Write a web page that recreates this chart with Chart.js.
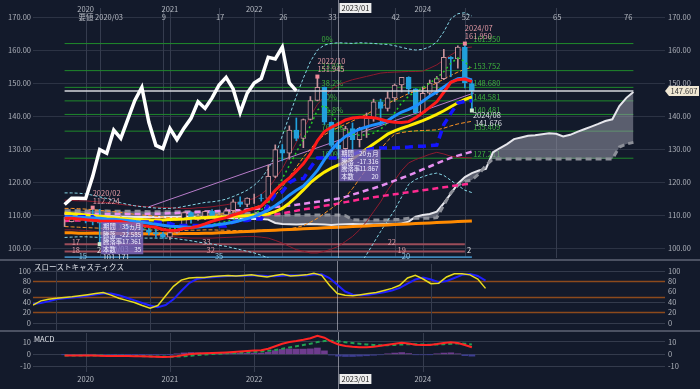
<!DOCTYPE html>
<html><head><meta charset="utf-8">
<script src="https://cdn.jsdelivr.net/npm/chart.js@4.4.1/dist/chart.umd.min.js"></script>
<style>
html,body{margin:0;padding:0;background:#131a2b;overflow:hidden}
#wrap{position:relative;width:700px;height:389px;background:#131a2b}
canvas{position:absolute;left:0;display:block}
.sep{position:absolute;left:0;width:700px;height:2px;background:#4b5162}
</style></head><body>
<div id="wrap">
<canvas id="cMain" width="700" height="260" style="top:0px"></canvas>
<canvas id="cSto" width="700" height="72" style="top:260px"></canvas>
<canvas id="cMacd" width="700" height="57" style="top:332px"></canvas>
<div class="sep" style="top:259px"></div>
<div class="sep" style="top:330px"></div>
</div>
<script>
// ---- month index: 0 = 2020/01, first candle -3 = 2019/10, last candle 55 = 2024/08, cloud to 78 ----
const START = -3;
const END_M = 78;

const opens = [108.0,108.0,109.5,108.6,108.4,107.9,107.5,106.9,107.8,107.9,
 105.9,105.9,105.5,104.7,104.3,103.25,104.7,106.6,110.7,109.3,
 109.6,111.1,109.7,110.0,111.3,114.0,113.2,115.1,115.1,115.0,
 121.7,129.8,128.7,135.7,133.2,138.95,144.7,148.7,138.1,131.1,
 130.1,136.2,132.8,136.3,139.3,144.3,142.3,145.5,149.4,151.7,
 148.2,141.0,146.9,150.0,151.35,157.8,157.3,160.9,149.8];
const highs = [109.3,109.7,109.7,110.3,112.22,111.7,109.4,108.1,109.85,108.2,
 107.05,106.55,106.1,105.7,104.75,104.9,106.7,110.97,110.96,110.2,
 111.1,111.66,110.8,112.07,114.7,115.5,115.2,116.35,116.3,125.1,
 131.25,131.35,137.0,139.4,139.1,145.9,151.95,148.8,138.2,131.6,
 136.9,137.9,136.6,140.9,145.1,145.1,147.4,149.7,151.7,151.9,
 148.3,148.8,150.9,151.97,160.2,157.99,161.3,161.95,150.9];
const lows = [106.5,107.9,108.4,107.6,107.0,101.17,106.4,106.0,106.1,104.2,
 105.1,104.0,104.0,103.2,102.9,102.6,104.4,106.4,107.5,108.35,
 108.6,109.05,108.7,109.1,110.8,112.5,112.5,113.5,114.2,114.6,
 121.3,126.4,126.9,132.5,130.4,138.8,144.6,137.5,130.6,127.21,
 128.1,129.6,130.6,133.5,138.4,137.2,141.5,144.4,147.3,146.7,
 140.95,140.8,145.9,146.5,151.0,151.9,154.5,148.5,141.68];
const closes = [108.0,109.5,108.6,108.4,107.9,107.5,106.9,107.8,107.9,105.9,
 105.9,105.5,104.7,104.3,103.25,104.7,106.6,110.7,109.3,109.6,
 111.1,109.7,110.0,111.3,114.0,113.2,115.1,115.1,115.0,121.7,
 129.8,128.7,135.7,133.2,138.95,144.7,148.7,138.1,131.1,130.1,
 136.2,132.8,136.3,139.3,144.3,142.3,145.5,149.4,151.7,148.2,
 141.0,146.9,150.0,151.35,157.8,157.3,160.9,150.0,147.6];

// lagging span (m -3 .. 30)
const lagSpan = [113.2,115.1,115.1,115.0,121.7,129.8,128.7,135.7,133.2,138.95,
 144.7,148.7,138.1,131.1,130.1,136.2,132.8,136.3,139.3,144.3,
 142.3,145.5,149.4,151.7,148.2,141.0,146.9,150.0,151.35,157.8,
 157.3,160.9,150.0,147.6];

// leading spans (m -3 .. 78)
const senkouA = [110.3,110.2,110.1,110.0,109.9,109.8,109.7,109.6,109.5,109.5,
 109.4,109.4,109.4,109.4,109.4,109.4,109.4,109.5,109.5,109.5,
 109.4,109.3,109.2,109.1,109.0,108.9,108.9,108.8,108.8,108.6,
 107.6,107.3,107.2,107.1,107.2,107.3,107.2,107.1,107.0,107.1,
 107.2,107.3,107.2,107.2,107.1,107.2,107.3,107.2,107.4,108.0,
 109.5,110.0,110.3,111.0,113.6,116.5,119.5,121.5,122.7,123.5,
 124.0,129.0,130.3,131.5,133.0,133.5,134.0,134.2,134.5,134.8,
 134.6,133.8,134.3,135.2,136.0,136.8,137.6,138.5,139.0,143.0,
 145.5,147.3];
const senkouB = [111.3,111.3,111.3,111.2,111.2,111.2,111.2,111.1,111.1,111.1,
 111.1,111.1,111.0,111.0,111.0,111.0,111.0,111.0,111.0,111.0,
 111.0,110.9,110.8,110.8,110.7,110.6,110.5,110.5,110.4,110.2,
 110.0,110.0,110.0,110.0,110.0,110.0,110.0,110.0,110.0,110.0,
 109.8,108.6,108.5,108.5,108.5,108.5,108.5,108.6,108.7,109.0,
 109.0,109.0,109.0,109.2,113.0,116.7,119.0,120.2,120.6,122.5,
 125.0,127.0,127.0,127.0,127.0,127.0,127.0,127.0,127.0,127.0,
 127.0,127.0,127.0,127.0,127.0,127.0,127.0,127.0,127.0,130.6,
 131.5,132.0];

// moving averages / bands (m -3 .. 55)
const maRed = [109.0,109.0,108.8,108.6,108.4,108.2,108.1,108.1,108.0,107.6,
 107.2,106.8,106.5,106.3,105.6,105.3,105.4,105.9,106.1,106.6,
 107.3,108.1,108.7,109.2,110.0,110.6,111.4,112.0,112.7,114.8,
 117.5,119.5,121.2,123.3,125.5,128.5,132.5,135.3,136.6,137.6,
 138.8,139.4,139.6,139.6,139.5,139.0,138.4,138.1,138.0,138.3,
 139.5,141.0,142.6,144.3,147.2,150.2,151.0,151.2,150.4];
const maBlue = [109.5,109.4,109.3,109.2,109.1,109.0,108.8,108.7,108.5,108.3,
 108.0,107.8,107.5,107.2,106.9,106.6,106.5,106.4,106.3,106.4,
 106.6,106.8,107.1,107.4,107.8,108.3,108.9,109.5,110.5,111.5,
 112.8,114.3,116.0,117.5,118.8,121.0,123.5,126.8,129.7,132.0,
 133.8,135.0,136.0,136.7,137.3,137.8,138.6,140.0,141.2,142.0,
 143.0,144.5,146.0,147.3,148.8,150.2,151.3,151.5,150.9];
const maYellow = [110.6,110.4,110.2,110.0,109.8,109.6,109.4,109.2,109.0,108.8,
 108.7,108.6,108.5,108.5,108.5,108.6,108.7,108.8,109.0,109.1,
 109.2,109.3,109.4,109.5,109.6,109.7,109.8,109.9,110.0,110.3,
 111.0,112.0,113.6,115.5,117.6,119.8,121.5,123.0,124.2,125.2,
 126.0,127.0,128.5,130.0,131.5,133.0,134.5,135.5,136.3,137.0,
 137.8,138.6,139.5,140.5,141.6,142.8,144.0,145.0,145.8];
const kijun = [109.5,109.5,109.5,109.5,109.5,107.9,107.9,107.9,107.9,107.9,
 107.9,107.9,107.9,107.9,107.7,107.4,106.8,106.8,106.8,106.8,
 106.7,106.7,106.7,106.7,107.9,108.3,108.3,108.8,108.8,113.1,
 116.2,117.0,119.8,121.0,121.0,124.3,127.3,127.3,127.3,127.3,
 127.3,128.2,129.2,129.7,130.2,130.3,130.3,130.3,130.5,130.6,
 130.8,130.8,131.0,131.2,137.4,140.8,143.9,144.4,144.6];
const greenDot = [109.0,108.8,108.6,108.4,108.2,108.0,107.7,107.4,107.1,106.8,
 106.5,106.3,106.1,105.9,105.8,105.8,105.9,106.0,106.2,106.5,
 106.8,107.2,107.6,108.0,108.6,109.2,109.8,110.5,111.5,113.6,
 117.0,121.0,125.0,129.0,133.0,137.0,141.8,143.3,141.0,137.3,
 135.5,134.5,134.2,134.3,134.8,136.0,138.0,141.0,144.0,146.0,
 147.5,148.5,150.0,151.5,153.5,156.0,157.6,156.5,154.0];
const bbUpper = [116.7,116.7,116.6,116.4,116.0,115.5,115.0,114.4,113.7,113.2,
 112.8,112.5,112.3,112.1,112.0,112.0,112.2,112.6,113.0,113.4,
 113.8,114.0,114.3,114.8,115.6,116.5,117.5,119.0,121.0,124.0,
 128.0,134.0,140.0,146.0,151.5,156.5,160.0,161.5,162.0,162.2,
 162.1,162.0,162.2,162.1,162.0,161.8,161.7,161.3,160.8,160.3,
 160.0,160.2,161.0,162.4,165.5,169.5,171.0,171.3,170.3];
const bbLower = [103.2,103.3,103.4,103.4,103.3,103.2,103.1,103.0,103.0,103.0,
 103.0,103.0,103.0,103.0,103.0,103.0,102.8,102.5,102.2,101.8,
 101.5,101.2,100.8,100.5,100.0,99.5,99.0,98.5,97.8,97.0,
 95.5,94.0,92.0,90.0,89.0,88.0,88.5,89.0,90.0,91.0,
 92.0,93.5,95.0,98.0,101.5,105.0,108.3,111.5,115.5,119.3,
 120.8,121.6,122.3,122.7,122.0,120.5,119.0,117.5,116.8];
const band2Upper = [114.5,114.4,114.3,114.3,114.1,113.9,113.8,113.5,113.2,113.0,
 112.8,112.6,112.5,112.4,112.3,112.2,112.1,112.0,112.0,112.2,
 112.3,112.5,112.8,113.1,113.5,114.0,114.5,115.0,116.3,118.0,
 121.0,124.0,128.0,132.0,136.0,140.0,143.5,146.0,148.0,149.5,
 150.3,151.0,151.5,152.0,152.5,153.0,153.2,153.3,153.4,153.5,
 153.5,153.6,154.5,155.5,157.0,158.5,159.8,160.7,160.9];
const band2Lower = [105.5,105.5,105.4,105.3,105.1,104.8,104.5,104.4,104.3,104.2,
 104.1,104.0,104.0,103.8,103.6,103.5,103.3,103.1,103.0,103.0,
 103.0,103.0,103.1,103.2,103.3,103.4,103.5,103.5,103.3,103.0,
 102.3,101.5,100.5,99.5,99.0,98.5,98.5,99.0,99.7,100.5,
 102.0,103.5,105.5,108.0,111.0,114.0,117.5,120.5,123.5,125.8,
 126.8,127.6,128.4,129.0,128.5,127.8,127.5,127.4,127.3];
const orangeUp = [112.0,112.0,111.9,111.8,111.6,111.4,111.2,111.0,110.8,110.5,
 110.2,110.0,109.8,109.6,109.4,109.2,109.1,109.1,109.2,109.4,
 109.6,109.9,110.2,110.5,110.9,111.3,111.8,112.3,113.0,114.0,
 116.0,118.5,121.5,124.5,127.5,130.0,132.5,134.3,135.5,136.5,
 137.5,138.5,139.5,140.5,141.7,142.8,143.8,144.8,145.8,146.8,
 147.5,148.2,149.0,150.0,151.2,152.3,153.3,154.2,154.7];
const orangeLow = [106.5,106.4,106.3,106.2,106.1,106.0,105.9,105.8,105.7,105.6,
 105.6,105.5,105.5,105.4,105.4,105.3,105.3,105.3,105.4,105.4,
 105.5,105.5,105.4,105.4,105.3,105.3,105.3,105.4,105.4,105.5,
 105.5,105.6,105.8,106.2,106.8,107.8,109.0,110.5,112.0,113.6,
 115.5,118.0,121.0,124.0,127.0,130.0,132.5,134.5,135.0,135.3,
 135.5,135.6,135.7,135.8,136.3,137.0,137.6,138.0,138.4];
const longMA = [104.6,104.6,104.5,104.5,104.5,104.5,104.4,104.4,104.4,104.4,
 104.4,104.3,104.3,104.3,104.3,104.3,104.3,104.4,104.4,104.4,
 104.5,104.5,104.6,104.7,104.8,104.9,105.0,105.1,105.2,105.3,
 105.4,105.5,105.6,105.7,105.8,105.9,106.0,106.1,106.2,106.3,
 106.4,106.5,106.6,106.7,106.8,106.9,107.0,107.1,107.2,107.3,
 107.4,107.5,107.6,107.7,107.8,107.9,108.0,108.1,108.2];
const pinkMA = [108.2,108.3,108.3,108.4,108.4,108.5,108.5,108.5,108.6,108.6,
 108.6,108.6,108.6,108.6,108.7,108.7,108.7,108.8,108.8,108.9,
 109.0,109.1,109.2,109.3,109.4,109.5,109.6,109.7,109.8,110.0,
 110.2,110.5,110.9,111.3,111.7,112.0,112.4,112.8,113.1,113.5,
 113.9,114.3,114.7,115.0,115.4,115.7,116.0,116.3,116.6,116.9,
 117.2,117.5,117.8,118.1,118.4,118.7,119.0,119.3,119.5];
const violetMA = [110.5,110.5,110.4,110.4,110.4,110.3,110.3,110.3,110.3,110.3,
 110.3,110.3,110.4,110.4,110.4,110.5,110.6,110.7,110.8,110.9,
 111.0,111.1,111.2,111.3,111.4,111.5,111.7,111.8,112.0,112.2,
 112.4,112.6,112.9,113.1,113.4,113.7,114.0,114.3,114.7,115.0,
 115.5,116.2,116.8,117.5,118.1,118.8,119.6,120.4,121.2,122.0,
 122.9,123.8,124.7,125.6,126.5,127.3,128.0,128.6,129.2];
const trendLine = [[9, 112.5], [55.3, 147.0]];

const fibLevels = [161.950, 153.752, 148.680, 144.581, 140.481, 135.409, 127.211];
const fibNames = ['0%', '23.6%', '38.2%', '50%', '61.8%', '76.4%', '100%'];
const lastPrice = 147.607;
const countLinePrices = [101.171, 98.94, 97.2];

const highNotes = [{m:1, d:'2020/02', v:112.224}, {m:33, d:'2022/10', v:151.945}, {m:54, d:'2024/07', v:161.950}];
const lowNotes = [{m:2, d:'2020/03', v:101.171}, {m:55, d:'2024/08', v:141.676}];
const box1Rows = [['期間','35ヵ月'],['騰落','-22.585'],['騰落率','-17.361'],['本数','35']];
const box2Rows = [['期間','20ヵ月'],['騰落','-17.316'],['騰落率','-11.867'],['本数','20']];

// stochastics and MACD (m -3 .. 55)
const stochK = [34,42,45,47,48.5,50,52,54,56,58,
 53,47,43,39,33,28,33,52,70,82,
 86,87,87,89,90,91,90,91,92,90,
 88,91,93,90,91,92,95,91,72,56,
 53,52,54,56,58,62,66,72,86,91,
 84,75,76,88,94,94,92,84,66];
const stochD = [36,38,41,45,47,48.5,50,52,54,56,
 56,53,48,43,38,33,30,34,45,61,
 76,84,86.5,87.5,89,90,90,90.5,91,91,
 90,89.5,90.5,91.5,91,91,92.5,93,86,73,
 60,54,53,54,56,58.5,62,67,75,83,
 87,83,78,80,86,92,93.5,90,81];
const macdLine = [-1.0,-1.0,-1.0,-1.0,-1.0,-1.2,-1.3,-1.3,-1.3,-1.4,
 -1.5,-1.6,-1.8,-2.0,-2.2,-2.1,-1.5,-0.5,0.3,0.6,
 0.8,1.0,1.2,1.5,1.9,2.3,2.6,3.0,3.3,4.5,
 6.5,8.5,10.0,10.8,11.8,13.0,15.0,13.5,10.3,8.0,
 6.8,6.2,5.8,5.7,6.2,6.9,7.8,8.6,9.4,8.8,
 7.8,7.5,7.6,8.3,9.2,9.8,9.2,7.5,5.7];
const macdSignal = [-0.9,-0.9,-0.9,-1.0,-1.0,-1.0,-1.1,-1.2,-1.2,-1.3,
 -1.4,-1.5,-1.6,-1.8,-1.9,-2.0,-1.9,-1.6,-1.1,-0.6,
 -0.2,0.2,0.5,0.8,1.1,1.4,1.7,2.0,2.3,2.8,
 3.5,4.5,5.6,6.6,7.6,8.6,9.9,10.7,10.9,10.5,
 9.8,9.2,8.6,8.0,7.6,7.4,7.4,7.6,8.0,8.2,
 8.1,7.9,7.8,7.9,8.2,8.6,8.8,8.6,8.0];
const macdHist = [-0.1,-0.1,-0.1,0.0,0.0,-0.2,-0.2,-0.1,-0.1,-0.1,
 -0.1,-0.1,-0.2,-0.2,-0.3,-0.1,0.4,1.1,1.4,1.2,
 1.0,0.8,0.7,0.7,0.8,0.9,0.9,1.0,1.0,1.7,
 3.0,4.0,4.4,4.2,4.2,4.4,5.1,2.8,-0.6,-1.5,
 -1.8,-1.8,-1.5,-1.2,-0.8,-0.4,0.4,1.0,1.4,0.6,
 -0.3,-0.4,-0.2,0.4,1.0,1.2,0.4,-1.1,-1.5];

const priceTicks = [100,110,120,130,140,150,160,170];
const stochTicks = [0,20,40,60,80,100];
const stochLevels = [80,50,20];
const macdTicks = [-10,0,10];
const yearLabels = [['2020',0],['2021',12],['2022',24],['2024',48]];
const cycleLabels = [['要値 2020/03',2],['9',11],['17',19],['26',28],['33',35],['42',44],['52',54],['65',67],['76',78]];
const crossLabel = ['2023/01', 36];

// ---------------- helpers ----------------
const FONT = "'Noto Sans CJK JP','Noto Sans',sans-serif";
Chart.defaults.font.family = FONT;
Chart.defaults.font.size = 7.5;
Chart.defaults.color = '#aeb2bb';
Chart.defaults.animation = false;
Chart.defaults.responsive = false;
Chart.defaults.events = [];
Chart.defaults.plugins.legend.display = false;
Chart.defaults.plugins.tooltip.enabled = false;

const pts = (arr, s) => arr.map((v, i) => ({x: s + i, y: v}));
function L(arr, s, color, w, dash, order, more) {
  return Object.assign({type:'line', data: pts(arr, s), borderColor: color, borderWidth: w,
    borderDash: dash || [], pointRadius: 0, tension: 0, fill: false, order: order}, more || {});
}
function H(v, m0, m1, color, w, order, dash) {
  return {type:'line', data:[{x:m0,y:v},{x:m1,y:v}], borderColor: color, borderWidth: w,
    borderDash: dash || [], pointRadius: 0, fill: false, order: order};
}
function axes(min, max, ticks, fmt, grid) {
  const mk = pos => ({
    position: pos, min: min, max: max,
    afterBuildTicks(s){ s.ticks = ticks.map(v => ({value: v})); },
    afterFit(s){ s.width = pos === 'left' ? 33 : 35; s.paddingTop = 0; s.paddingBottom = 0; },
    ticks: {color:'#aeb2bb', autoSkip:false, padding: pos === 'left' ? 2 : 3, callback: fmt, font:{size:7.5, family: FONT}},
    grid: {display: pos === 'left' && !!grid, color: grid || 'transparent', drawTicks:false, lineWidth:1},
    border: {display:false}
  });
  return {x: {type:'linear', min: START, max: END_M, display:false}, y: mk('left'), yR: mk('right')};
}
const X = (ch, m) => ch.scales.x.getPixelForValue(m);
const Y = (ch, v) => ch.scales.y.getPixelForValue(v);
function vline(c, x, y0, y1, color, w) {
  c.strokeStyle = color; c.lineWidth = w || 1; c.beginPath();
  c.moveTo(Math.round(x) + 0.5, y0); c.lineTo(Math.round(x) + 0.5, y1); c.stroke();
}
function hline(c, y, x0, x1, color, w) {
  c.strokeStyle = color; c.lineWidth = w || 1; c.beginPath();
  c.moveTo(x0, Math.round(y) + 0.5); c.lineTo(x1, Math.round(y) + 0.5); c.stroke();
}
function txt(c, s, x, y, color, align, size) {
  c.fillStyle = color; c.textAlign = align || 'left'; c.textBaseline = 'middle';
  c.font = (size || 7.5) + 'px ' + FONT; c.fillText(s, x, y);
}
function whiteBox(c, s, cx, cy) {
  c.font = '7.5px ' + FONT;
  const w = c.measureText(s).width + 4;
  c.fillStyle = '#eeeeee'; c.fillRect(cx, cy - 5, w, 10);
  txt(c, s, cx + 2, cy, '#222222', 'left');
}
function infoBox(c, rows, x0, x1, y0, rowH) {
  c.fillStyle = 'rgba(124,104,190,0.82)';
  c.fillRect(x0, y0, x1 - x0, rows.length * rowH + 2);
  rows.forEach((r, i) => {
    const y = y0 + 1 + rowH * i + rowH / 2;
    txt(c, r[0], x0 + 2, y, '#f2f0ff', 'left', 6.3);
    txt(c, r[1], x1 - 2, y, '#f2f0ff', 'right', 6.3);
  });
}

// ---------------- main chart ----------------
const idx = opens.map((_, i) => START + i);
const bull = opens.map((o, i) => closes[i] >= o);
const edgeCol = bull.map(b => b ? '#c8939b' : '#22a0dc');
const fillCol = bull.map(b => b ? '#131a2b' : '#22a0dc');

const mainSets = [
  L(senkouA, START, '#e6e6ec', 2, [], 100, {fill:'+1', backgroundColor:'rgba(150,152,165,0.55)'}),
  L(senkouB, START, '#8d9099', 3, [6,4], 99),
];
fibLevels.forEach(v => mainSets.push(H(v, START, END_M, '#1f8a2b', 1, 120)));
mainSets.push(H(countLinePrices[0], START, 54, '#9b4d5a', 2, 119));
mainSets.push(H(countLinePrices[1], START, 54, '#9b4d5a', 2, 119));
mainSets.push(H(countLinePrices[2], START, 55, '#3f86b8', 2, 119));
mainSets.push(
  L(bbUpper, START, '#86d6e6', 1, [3,2], 90),
  L(bbLower, START, '#86d6e6', 1, [3,2], 90),
  L(band2Upper, START, '#8e1b2e', 1, [], 90),
  L(band2Lower, START, '#8e1b2e', 1, [], 90),
  L(orangeUp, START, '#ff9424', 1, [4,2], 89),
  L(orangeLow, START, '#ff9424', 1, [4,2], 89),
  L(longMA, START, '#ff8a00', 3, [], 85),
  L(pinkMA, START, '#ff2a90', 2.5, [6,4], 84),
  L(violetMA, START, '#e68ef0', 2.5, [6,4], 84),
  {type:'line', data: trendLine.map(p => ({x:p[0], y:p[1]})), borderColor:'#b77cc9', borderWidth:1, pointRadius:0, fill:false, order:86},
  {type:'bar', data: idx.map((m, i) => ({x:m, y:[lows[i], highs[i]]})), backgroundColor: edgeCol,
    borderWidth:0, barThickness:1, grouped:false, order:61},
  {type:'bar', data: idx.map((m, i) => ({x:m, y:[opens[i], closes[i]]})), backgroundColor: fillCol,
    borderColor: edgeCol, borderWidth:1, borderSkipped:false, barThickness:5, grouped:false, order:60},
  L(greenDot, START, '#25cc25', 1.5, [2,3], 50),
  L(maYellow, START, '#ffee00', 3, [], 45),
  L(kijun, START, '#1414ff', 3.5, [8,5], 44),
  L(maBlue, START, '#1e8fff', 3, [], 43),
  L(maRed, START, '#ff1a1a', 3, [], 42),
  H(lastPrice, START, END_M, '#d6d8de', 1.5, 41),
  L(lagSpan, START, '#ffffff', 3.5, [], 5)
);

const mainDeco = {
  id: 'mainDeco',
  beforeDatasetsDraw(ch) {
    const c = ch.ctx, a = ch.chartArea; c.save();
    [0,12,24,48].concat(cycleLabels.map(l => l[1])).forEach(m => {
      if (m < END_M) vline(c, X(ch, m), a.top, a.bottom, '#353c4e', 1);
    });
    fibLevels.forEach((v, i) => {
      const y = Y(ch, v) - 4;
      txt(c, fibNames[i], X(ch, 33.6), y, '#3db03d', 'left');
      txt(c, v.toFixed(3), X(ch, 55.2), y, '#3db03d', 'left');
    });
    c.restore();
  },
  afterDatasetsDraw(ch) {
    const c = ch.ctx; c.save();
    highNotes.forEach(n => {
      const px = X(ch, n.m), py = Y(ch, n.v);
      c.fillStyle = '#f08a9a'; c.fillRect(px - 2, py - 2, 4, 4);
      txt(c, n.d, px, py - 15, '#e39aa4');
      txt(c, n.v.toFixed(3), px, py - 7, '#e39aa4');
    });
    lowNotes.forEach(n => {
      const px = X(ch, n.m), py = Y(ch, n.v);
      c.fillStyle = '#cfe8cf'; c.fillRect(px - 2, py - 2, 4, 4);
      txt(c, n.d, px + 1, py + 5, '#dde0e6');
      txt(c, n.v.toFixed(3), px + 3, py + 13, '#dde0e6');
    });
    infoBox(c, box1Rows, X(ch, 2.2), X(ch, 8.2), Y(ch, 107.8), 7.5);
    infoBox(c, box2Rows, X(ch, 36.1), X(ch, 42.0), Y(ch, 129.9), 7.5);
    // cycle counts on the count lines
    const pk = '#d99aa3', bl = '#8ec5e0', wh = '#e4e6ea';
    const y1 = Y(ch, countLinePrices[0]) - 1.5, y2 = Y(ch, countLinePrices[1]) - 1.5, y3 = Y(ch, countLinePrices[2]) - 1.5;
    txt(c, '17', X(ch, -1.4), y1, pk, 'center'); txt(c, '18', X(ch, -1.4), y2, pk, 'center'); txt(c, '15', X(ch, -0.4), y3, bl, 'center');
    txt(c, '2', X(ch, 1.9), y2, wh, 'center');
    txt(c, '33', X(ch, 17.2), y1, pk, 'center'); txt(c, '32', X(ch, 17.8), y2, pk, 'center'); txt(c, '35', X(ch, 19.0), y3, bl, 'center');
    txt(c, '22', X(ch, 43.6), y1, pk, 'center'); txt(c, '19', X(ch, 45.0), y2, pk, 'center'); txt(c, '20', X(ch, 45.6), y3, bl, 'center');
    txt(c, '2', X(ch, 54.6), y2, wh, 'center');
    c.restore();
  },
  afterDraw(ch) {
    const c = ch.ctx, a = ch.chartArea; c.save();
    vline(c, X(ch, crossLabel[1]), 0, a.bottom, 'rgba(215,215,225,0.55)', 1);
    yearLabels.forEach(l => txt(c, l[0], X(ch, l[1]), 9, '#b8bcc4', 'center'));
    cycleLabels.forEach(l => {
      const last = l[1] >= END_M;
      txt(c, l[0], X(ch, l[1]) + (last ? -1 : 1), 17.5, '#b8bcc4', last ? 'right' : 'center');
    });
    whiteBox(c, crossLabel[0], X(ch, crossLabel[1]) + 1, 8);
    // last price tag
    const yc = Y(ch, lastPrice), x0 = a.right + 4;
    c.fillStyle = '#efe7d3';
    c.beginPath(); c.moveTo(a.right, yc); c.lineTo(x0, yc - 5); c.lineTo(699, yc - 5); c.lineTo(699, yc + 5); c.lineTo(x0, yc + 5); c.closePath(); c.fill();
    txt(c, lastPrice.toFixed(3), (x0 + 699) / 2, yc, '#333333', 'center');
    c.restore();
  }
};

new Chart(document.getElementById('cMain'), {
  type: 'line',
  data: {datasets: mainSets},
  options: {
    layout: {padding: {top: 8, bottom: 2, left: 0, right: 0}},
    scales: axes(96.97, 172.73, priceTicks, v => Number(v).toFixed(2), '#2c3344')
  },
  plugins: [mainDeco]
});

// ---------------- stochastics ----------------
const panelVLines = (ch, c) => {
  const a = ch.chartArea;
  yearLabels.forEach(l => vline(c, X(ch, l[1]), a.top, a.bottom, '#353c4e', 1));
  vline(c, X(ch, crossLabel[1]), 0, ch.height, 'rgba(215,215,225,0.55)', 1);
};
const stoDeco = {
  id: 'stoDeco',
  beforeDatasetsDraw(ch) {
    const c = ch.ctx, a = ch.chartArea; c.save();
    [100, 40, 0].forEach(v => hline(c, Y(ch, v), a.left, a.right, '#343b4c', 1));
    stochLevels.forEach(v => hline(c, Y(ch, v), a.left, a.right, '#8c4a1c', 1.5));
    panelVLines(ch, c);
    txt(c, 'スローストキャスティクス', 34, 7, '#dfe2e8', 'left', 7.5);
    c.restore();
  }
};
new Chart(document.getElementById('cSto'), {
  type: 'line',
  data: {datasets: [
    L(stochD, START, '#1f1fff', 2, [], 2),
    L(stochK, START, '#e8dc1e', 1.5, [], 1)
  ]},
  options: {
    layout: {padding: {top: 4, bottom: 2, left: 0, right: 0}},
    scales: axes(-14, 112.9, stochTicks, v => String(v), null)
  },
  plugins: [stoDeco]
});

// ---------------- MACD ----------------
const macdDeco = {
  id: 'macdDeco',
  beforeDatasetsDraw(ch) {
    const c = ch.ctx; c.save();
    panelVLines(ch, c);
    txt(c, 'MACD', 34, 7, '#dfe2e8', 'left', 7.5);
    c.restore();
  },
  afterDraw(ch) {
    const c = ch.ctx; c.save();
    yearLabels.forEach(l => txt(c, l[0], X(ch, l[1]), 47, '#b8bcc4', 'center'));
    whiteBox(c, crossLabel[0], X(ch, crossLabel[1]) + 1, 47);
    c.restore();
  }
};
new Chart(document.getElementById('cMacd'), {
  type: 'line',
  data: {datasets: [
    {type:'bar', data: pts(macdHist, START), backgroundColor: macdHist.map(v => v >= 0 ? '#6e3c8e' : '#3d3d92'),
      borderWidth:0, barThickness:6, grouped:false, order:5},
    L(macdSignal, START, '#22a052', 2, [4,3], 3),
    L(macdLine, START, '#ff2424', 2, [], 2)
  ]},
  options: {
    layout: {padding: {top: 1, bottom: 17, left: 0, right: 0}},
    scales: axes(-14.4, 17.3, macdTicks, v => String(v), '#343b4c')
  },
  plugins: [macdDeco]
});
</script>
</body></html>
